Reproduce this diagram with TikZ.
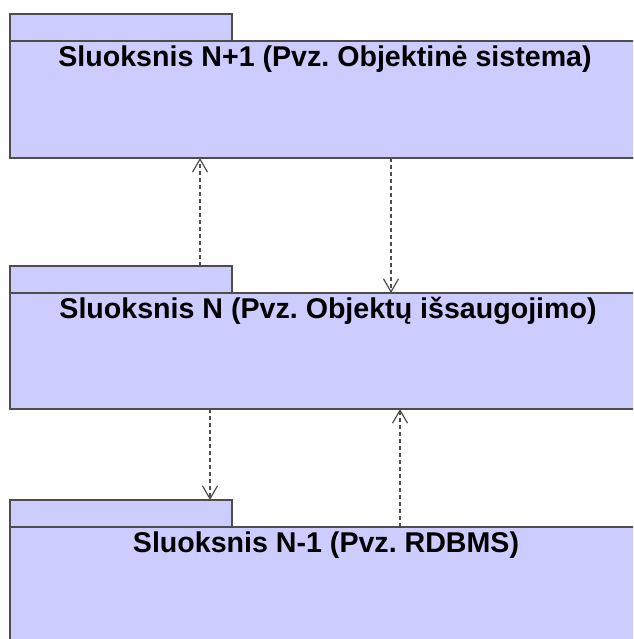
\documentclass[tikz,border=0pt]{standalone}
\usepackage{fontspec}
\setmainfont{Liberation Sans}
\usetikzlibrary{arrows.meta,calc}
\definecolor{pkgfill}{HTML}{CCCCFF}
\definecolor{pkgline}{HTML}{4D4D4D}
\frenchspacing
\begin{document}
\begin{tikzpicture}[x=1pt,y=1pt,
  pkgtab/.style={draw=pkgline, fill=pkgfill, line width=1.7pt,
    minimum width=222pt, minimum height=27pt, anchor=north west,
    inner sep=0pt, outer sep=0pt},
  pkgbody/.style={draw=pkgline, fill=pkgfill, line width=1.7pt,
    minimum width=640pt, anchor=north west, inner sep=0pt, outer sep=0pt},
  pkgtitle/.style={font=\fontsize{28.6}{34}\selectfont\bfseries,
    anchor=base, inner sep=0pt},
  dep/.style={draw=pkgline, line width=1.2pt, dash pattern=on 4pt off 3pt,
    -{Straight Barb[length=13pt,width=15pt,line width=1.2pt]}}
]
\useasboundingbox (0,0) rectangle (633,639);
\clip (0,0) rectangle (633,639);

% layer N+1
\node[pkgtab] (tab1) at (10,625) {};
\node[pkgbody, minimum height=117pt] (body1) at (10,598) {};
\node[pkgtitle] (title1) at ($(body1.north west)+(315,-26)$) {Sluoksnis N+1 (Pvz. Objektinė sistema)};

% layer N
\node[pkgtab] (tab2) at (10,373) {};
\node[pkgbody, minimum height=116pt] (body2) at (10,346) {};
\node[pkgtitle] (title2) at ($(body2.north west)+(318,-26)$) {Sluoksnis N (Pvz. Objektų išsaugojimo)};

% layer N-1
\node[pkgtab] (tab3) at (10,139) {};
\node[pkgbody, minimum height=130pt] (body3) at (10,112) {};
\node[pkgtitle] (title3) at ($(body3.north west)+(316,-26)$) {Sluoksnis N-1 (Pvz. RDBMS)};

% dependency positions
\coordinate (c1) at (200,0);
\coordinate (c2) at (391,0);
\coordinate (c3) at (210,0);
\coordinate (c4) at (400,0);

\draw[dep] (tab2.north -| c1) -- (body1.south -| c1);
\draw[dep] (body1.south -| c2) -- (body2.north -| c2);
\draw[dep] (body2.south -| c3) -- (tab3.north -| c3);
\draw[dep] (body3.north -| c4) -- (body2.south -| c4);
\end{tikzpicture}
\end{document}
